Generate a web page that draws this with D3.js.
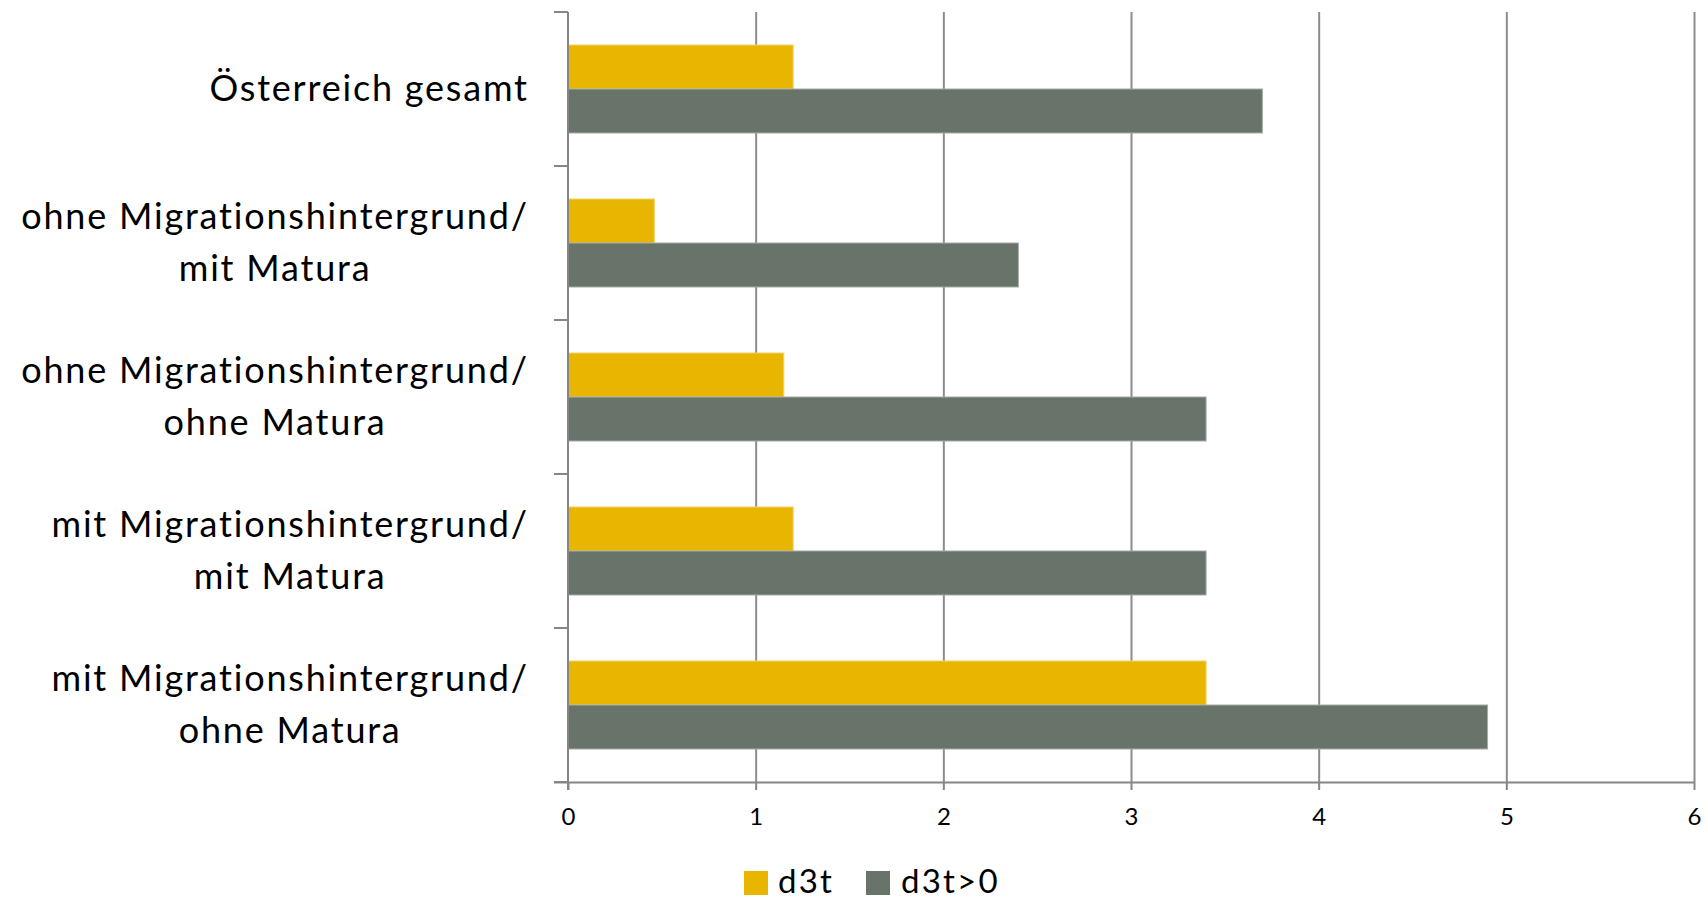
<!DOCTYPE html>
<html>
<head>
<meta charset="utf-8">
<script src="https://cdn.jsdelivr.net/npm/d3@7"></script>
<style>
  html, body { margin: 0; padding: 0; background: #fff; }
  svg { display: block; }
  text { font-family: Lato, "Open Sans", sans-serif; fill: #000; font-variant-ligatures: none; }
</style>
</head>
<body>
<svg id="chart" width="1706" height="900"></svg>
<script>
// ---- data ----
const categories = [
  ["Österreich gesamt"],
  ["ohne Migrationshintergrund/", "mit Matura"],
  ["ohne Migrationshintergrund/", "ohne Matura"],
  ["mit Migrationshintergrund/", "mit Matura"],
  ["mit Migrationshintergrund/", "ohne Matura"]
];
const seriesNames = ["d3t", "d3t>0"];
const d3tValues = [1.2, 0.46, 1.15, 1.2, 3.4];
const d3tPosValues = [3.7, 2.4, 3.4, 3.4, 4.9];
const xTicks = [0, 1, 2, 3, 4, 5, 6];
const colors = ["#E8B500", "#68736A"];

(function () {
// ---- layout ----
const svg = d3.select("#chart");
const pLeft = 568, pRight = 1694, pTop = 12, pBottom = 782;
const axisColor = "#868686";

const x = d3.scaleLinear().domain([0, 6]).range([pLeft, pRight]);
const catKeys = categories.map((c, i) => i);
const y = d3.scaleBand().domain(catKeys).range([pTop, pBottom])
  .paddingInner(0.4286).paddingOuter(0.2143);
const ySub = d3.scaleBand().domain(seriesNames).range([0, y.bandwidth()]);

const rows = catKeys.map(i => ({ i, vals: [d3tValues[i], d3tPosValues[i]] }));

// gridlines
svg.append("g")
  .attr("transform", `translate(0,${pBottom})`)
  .call(d3.axisBottom(x).tickValues(xTicks.slice(1)).tickSize(-(pBottom - pTop)).tickFormat(""))
  .call(g => g.select(".domain").remove())
  .call(g => g.selectAll("line").attr("stroke", "#8c8c8c").attr("stroke-width", 2));

// bars
const groups = svg.append("g").selectAll("g").data(rows).join("g")
  .attr("transform", d => `translate(0,${y(d.i)})`);
groups.selectAll("rect").data(d => d.vals.map((v, k) => ({ k, v }))).join("rect")
  .attr("x", x(0))
  .attr("y", d => ySub(seriesNames[d.k]))
  .attr("width", d => x(d.v) - x(0))
  .attr("height", ySub.bandwidth())
  .attr("fill", d => colors[d.k])
  .attr("stroke", d => d.k === 0 ? "#f2d26a" : "#a3aba5")
  .attr("stroke-width", 1);

// x axis
const xAxis = svg.append("g")
  .attr("transform", `translate(0,${pBottom})`)
  .call(d3.axisBottom(x).tickValues(xTicks).tickSize(8).tickSizeOuter(0).tickFormat(d3.format("d")));
xAxis.select(".domain").attr("stroke", axisColor).attr("stroke-width", 2).attr("d", `M${pLeft - 14},0.5H${pRight + 1}`);
xAxis.selectAll(".tick line").attr("stroke", axisColor).attr("stroke-width", 2);
xAxis.selectAll(".tick text")
  .attr("y", 35).attr("dy", "0.35em")
  .style("font-size", "24px").style("font-family", "Lato, sans-serif").attr("fill", "#000");

// y axis line and boundary ticks
const boundaries = catKeys.map(i => pTop + i * y.step()).concat([pBottom]);
const yAxis = svg.append("g");
yAxis.append("line")
  .attr("x1", pLeft).attr("x2", pLeft).attr("y1", pTop).attr("y2", pBottom + 8)
  .attr("stroke", axisColor).attr("stroke-width", 2);
yAxis.selectAll("line.tk").data(boundaries).join("line").attr("class", "tk")
  .attr("x1", pLeft - 14).attr("x2", pLeft).attr("y1", d => d).attr("y2", d => d)
  .attr("stroke", axisColor).attr("stroke-width", 2);

// category labels
const labelRight = 527;
const fs = 36, lineGap = 52, ls = 1.8;
categories.forEach((lines, i) => {
  const cy = y(i) + y.bandwidth() / 2;
  const g = svg.append("g");
  const texts = lines.map((s, k) => g.append("text")
    .attr("y", cy + 11.5 + (k - (lines.length - 1) / 2) * lineGap)
    .style("font-size", fs + "px")
    .style("letter-spacing", ls + "px")
    .text(s));
  const widths = texts.map(t => t.node().getComputedTextLength() - ls);
  const maxW = Math.max(...widths);
  texts.forEach(t => t.attr("x", labelRight - maxW / 2 + ls / 2).attr("text-anchor", "middle"));
});

// legend
const legendItems = [
  { name: seriesNames[0], color: colors[0], sx: 744, tx: 778 },
  { name: seriesNames[1], color: colors[1], sx: 866, tx: 901 }
];
const lg = svg.append("g");
legendItems.forEach(it => {
  lg.append("rect").attr("x", it.sx).attr("y", 871).attr("width", 24).attr("height", 24).attr("fill", it.color);
  lg.append("text").attr("x", it.tx).attr("y", 893).style("font-size", "33px")
    .style("letter-spacing", "2.2px").text(it.name);
});
})();
</script>
</body>
</html>
